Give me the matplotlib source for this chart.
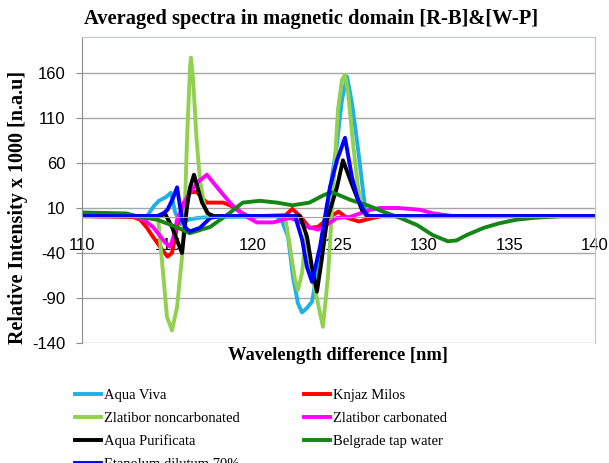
import matplotlib
matplotlib.use('Agg')
from matplotlib import pyplot as plt

plt.rcParams['axes.unicode_minus'] = False

# averaged spectra, values (wavelength difference, intensity x 1000)
aqua_viva_x = [110, 113.8, 114.2, 114.5, 114.9, 115.2, 115.45, 115.8, 116.2, 116.8, 117.5, 121.4, 121.7, 122.05,
               122.34, 122.63, 122.87, 123.16, 123.45, 123.6, 123.9, 124.3, 124.9, 125.2, 125.5, 125.8, 126.1,
               126.55, 126.75, 128, 140]
aqua_viva_y = [1, 1, 12, 18, 22, 27, 5, -8, -3, -1, 0, 1, -5, -22,
               -67, -96, -106, -101, -94, -78, -40, 5, 80, 130, 156, 125, 82,
               11, 1, 1, 1]

knjaz_x = [110, 113.0, 113.4, 113.8, 114.15, 114.56, 115.0, 115.26, 115.56, 115.85, 116.2, 116.7, 117.3,
           117.8, 118.25, 118.65, 118.95, 119.4, 119.8, 120.3, 121.9, 122.3, 122.8, 123.3, 123.8, 124.5, 125.0,
           125.5, 126.2, 126.8, 127.5, 140]
knjaz_y = [1, 0, -3, -12, -22, -33, -44, -40, -11, 11, 27, 28, 16,
           16, 16, 13, 10, 4, 0, 1, 2, 9, 0, -12, -11, 0, 6,
           -1, -5, -2, 1, 1]

zlat_non_x = [110, 114.2, 114.44, 114.74, 114.97, 115.26, 115.56, 115.85, 116.02, 116.14, 116.32, 116.37,
              116.5, 116.7, 116.9, 117.2, 117.4, 121.87, 122.16, 122.46, 122.63, 122.87, 123.1, 123.4, 124.09,
              124.38, 124.68, 124.97, 125.2, 125.38, 125.56, 125.85, 126.14, 126.43, 126.6, 140]
zlat_non_y = [1, 1, 0, -62, -111, -126, -100, -44, 11, 86, 167, 177,
              152, 86, 41, 8, 1, 1, -33, -70, -81, -62, -18, -60, -122,
              -67, 27, 119, 152, 158, 138, 82, 33, 6, 1, 1]

zlat_carb_x = [110, 113.0, 113.6, 114.15, 114.85, 115.15, 115.35, 115.56, 116.14, 116.73, 117.3, 117.9, 118.25,
               118.65, 119.06, 119.65, 120.23, 121.17, 122.16, 122.6, 123.2, 123.8, 124.3, 124.9, 125.67,
               126.84, 127.43, 128.5, 129.77, 130.53, 131.7, 140]
zlat_carb_y = [1, 1, -3, -11, -28, -33, -22, -3, 22, 38, 47, 33, 25,
               16, 8, 0, -6, -6, -1, -4, -11, -14, -9, -1, 0,
               8, 10, 10, 8, 4, 1, 1]

purificata_x = [110, 114.6, 114.85, 115.26, 115.56, 115.85, 116.14, 116.32, 116.55, 116.8, 117.02, 117.37,
                117.7, 122.75, 123.16, 123.45, 123.74, 124.0, 124.33, 124.91, 125.26, 125.85, 126.37, 126.73, 140]
purificata_y = [1, 1, 4, -11, -26, -40, 11, 33, 47, 30, 16, 4,
                1, 1, -22, -56, -83, -50, -3, 33, 63, 33, 8, 1, 1]

belgrade_x = [110, 112.6, 113.4, 114.4, 115.5, 116.3, 117.5, 118.6, 119.4, 120.4, 121.4, 122.3, 123.3, 124.1,
              124.5, 124.7, 125.7, 126.7, 127.6, 128.6, 129.6, 130.5, 131.4, 131.9, 132.5, 133.5, 134.4, 135.4,
              136.4, 138, 140]
belgrade_y = [5, 4, 0, -3, -11, -18, -11, 4, 16, 18, 16, 13, 16, 24,
              27, 27, 19, 13, 6, -1, -9, -20, -27, -26, -20, -12, -7, -3,
              -1, 1, 1]

etanol_x = [110, 114.4, 114.75, 115.0, 115.3, 115.56, 115.85, 116.1, 116.32, 116.9, 117.5, 118.1, 118.6,
            122.46, 122.87, 123.16, 123.45, 123.92, 124.5, 124.91, 125.38, 125.79, 126.14, 126.67, 140]
etanol_y = [1, 1, 4, 8, 20, 33, -3, -13, -16, -12, -1, 1, 1,
            1, -25, -56, -72, -33, 33, 63, 88, 44, 19, 1, 1]

fig = plt.figure(figsize=(6.09, 4.63), dpi=100)
ax = fig.add_axes([82 / 609, 1 - 343 / 463, 513 / 609, 306 / 463])

lw = 2.8
h_viva, = ax.plot(aqua_viva_x, aqua_viva_y, color='#1eb0e6', lw=lw, label='Aqua Viva')
h_knjaz, = ax.plot(knjaz_x, knjaz_y, color='#ff0000', lw=lw, label='Knjaz Milos')
h_non, = ax.plot(zlat_non_x, zlat_non_y, color='#92d050', lw=lw, label='Zlatibor noncarbonated')
h_carb, = ax.plot(zlat_carb_x, zlat_carb_y, color='#ff00ff', lw=lw, label='Zlatibor carbonated')
h_pur, = ax.plot(purificata_x, purificata_y, color='#000000', lw=lw, label='Aqua Purificata')
h_bel, = ax.plot(belgrade_x, belgrade_y, color='#138613', lw=lw, label='Belgrade tap water')
h_eta, = ax.plot(etanol_x, etanol_y, color='#0000ff', lw=lw, label='Etanolum dilutum 70%')

ax.set_xlim(110, 140)
ax.set_ylim(-140, 200)
ax.set_yticks(range(-140, 161, 50))
ax.set_xticks(range(110, 141, 5))
ax.yaxis.grid(True, color='#a6a6a6', lw=1)
ax.set_axisbelow(True)

# x axis sits at zero, labels hang below it
ax.spines['bottom'].set_position(('data', 0))
ax.spines['bottom'].set_color('#a6a6a6')
ax.spines['left'].set_color('#8c8c8c')
ax.spines['top'].set_color('#b8c7d9')
ax.spines['right'].set_color('#b8c7d9')
ax.tick_params(axis='x', length=0, pad=15)
ax.tick_params(axis='y', length=4, color='#8c8c8c', pad=8)
for t in ax.get_xticklabels() + ax.get_yticklabels():
    t.set_family('Liberation Sans')
    t.set_fontsize(12)

fig.text(311 / 609, 1 - 19 / 463, 'Averaged spectra in magnetic domain [R-B]&[W-P]',
         ha='center', va='center', family='Liberation Serif', fontweight='bold', fontsize=14.8)
fig.text(338 / 609, 1 - 356 / 463, 'Wavelength difference [nm]',
         ha='center', va='center', family='Liberation Serif', fontweight='bold', fontsize=13.3)
fig.text(18 / 609, 1 - 207 / 463, 'Relative Intensity x 1000 [n.a.u]', rotation=90,
         ha='center', va='center', family='Liberation Serif', fontweight='bold', fontsize=14.5)

handles = [h_viva, h_non, h_pur, h_eta, h_knjaz, h_carb, h_bel]
fig.legend(handles=handles, loc='upper left', bbox_to_anchor=(75 / 609, 1 - 389 / 463), ncol=2,
           frameon=False, borderpad=0, borderaxespad=0, handlelength=1.8, handletextpad=0.2,
           labelspacing=0.66, columnspacing=4.4, prop={'family': 'Liberation Serif', 'size': 10.5})

fig.savefig('out.png', dpi=100)
